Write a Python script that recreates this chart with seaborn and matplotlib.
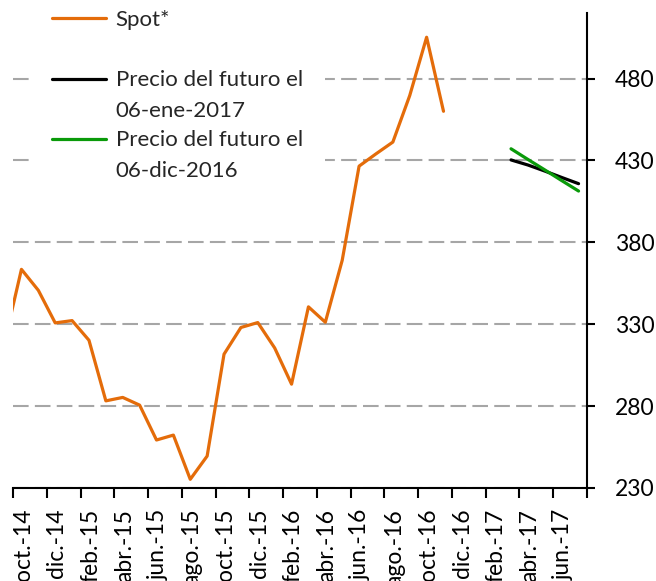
import numpy as np
import pandas as pd
import matplotlib
matplotlib.use("Agg")
import matplotlib.pyplot as plt
import seaborn as sns
from matplotlib.legend_handler import HandlerLine2D

# ---------------- data ----------------
months = ["sep.-14", "oct.-14", "nov.-14", "dic.-14", "ene.-15", "feb.-15", "mar.-15", "abr.-15",
          "may.-15", "jun.-15", "jul.-15", "ago.-15", "sep.-15", "oct.-15", "nov.-15", "dic.-15",
          "ene.-16", "feb.-16", "mar.-16", "abr.-16", "may.-16", "jun.-16", "jul.-16", "ago.-16",
          "sep.-16", "oct.-16", "nov.-16", "dic.-16", "ene.-17", "feb.-17", "mar.-17", "abr.-17",
          "may.-17", "jun.-17", "jul.-17"]
spot = [319, 363.5, 350.7, 330.8, 332.2, 320.2, 283.2, 285.3, 280.6, 259.3, 262.3, 235.3,
        249.5, 311.7, 328.0, 331.0, 315.5, 293.4, 340.6, 331.2, 369.0, 426.5, 434.0, 441.2,
        469.6, 505.2, 460.0]
fut_months = ["mar.-17", "abr.-17", "may.-17", "jun.-17", "jul.-17"]
fut_ene = [430.3, 427.2, 423.5, 419.6, 415.8]
fut_dic = [437.1, 430.6, 424.2, 417.7, 411.3]
label_months = ["oct.-14", "dic.-14", "feb.-15", "abr.-15", "jun.-15", "ago.-15", "oct.-15",
                "dic.-15", "feb.-16", "abr.-16", "jun.-16", "ago.-16", "oct.-16", "dic.-16",
                "feb.-17", "abr.-17", "jun.-17"]
yticks = [230, 280, 330, 380, 430, 480]

# index: oct.-14 = 0
pos = {m: i - 1 for i, m in enumerate(months)}
df_spot = pd.DataFrame({"x": [pos[m] for m in months[:len(spot)]], "y": spot})
df_ene = pd.DataFrame({"x": [pos[m] for m in fut_months], "y": fut_ene})
df_dic = pd.DataFrame({"x": [pos[m] for m in fut_months], "y": fut_dic})

sns.set_theme(style="white")
plt.rcParams["font.family"] = ["Lato", "DejaVu Sans"]

W, H = 656, 581
fig = plt.figure(figsize=(W / 100, H / 100), dpi=100)
L, R, T, B = 13, 587, 13, 488
ax = fig.add_axes([L / W, 1 - B / H, (R - L) / W, (B - T) / H])

ORANGE = "#E46C0A"
GREEN = "#0A9A0A"
sns.lineplot(data=df_spot, x="x", y="y", ax=ax, color=ORANGE, lw=2.3, label="Spot*\n")
sns.lineplot(data=df_ene, x="x", y="y", ax=ax, color="black", lw=2.3,
             label="Precio del futuro el\n06-ene-2017")
sns.lineplot(data=df_dic, x="x", y="y", ax=ax, color=GREEN, lw=2.3,
             label="Precio del futuro el\n06-dic-2016")

ax.set_xlim(-0.5, 33.5)
ax.set_ylim(230, 520)
ax.set_xlabel("")
ax.set_ylabel("")

# y axis on the right
ax.yaxis.tick_right()
ax.set_yticks(yticks)
ax.set_yticklabels([str(v) for v in yticks], fontsize=16.5, color="black")
ax.tick_params(axis="y", which="major", direction="out", length=6, width=1.5,
               color="black", right=True, left=False, pad=14)

# x axis: tick marks between categories, labels at every other category
ax.set_xticks(np.arange(-0.5, 34, 2))
ax.set_xticklabels([])
ax.set_xticks([pos[m] + 0.1 for m in label_months], minor=True)
ax.set_xticklabels(label_months, minor=True, rotation=90, fontsize=16.5, color="black")
ax.tick_params(axis="x", which="major", direction="out", length=7, width=1.5,
               color="black", bottom=True)
ax.tick_params(axis="x", which="minor", length=0, pad=15)

for s in ["left", "top"]:
    ax.spines[s].set_visible(False)
for s in ["right", "bottom"]:
    ax.spines[s].set_visible(True)
    ax.spines[s].set_color("black")
    ax.spines[s].set_linewidth(1.5)

ax.grid(axis="y", color="#A6A6A6", linestyle=(0, (7.5, 3)), linewidth=1.5)
ax.grid(axis="x", visible=False)
ax.set_axisbelow(True)


class TopHandler(HandlerLine2D):
    def create_artists(self, legend, orig_handle, xdescent, ydescent, width, height,
                       fontsize, trans):
        arts = super().create_artists(legend, orig_handle, xdescent, ydescent, width,
                                      height, fontsize, trans)
        for a in arts:
            if hasattr(a, "get_ydata"):
                a.set_ydata([v + 0.78 * fontsize for v in a.get_ydata()])
        return arts


handles, labels = ax.get_legend_handles_labels()
leg = ax.legend(handles, labels, loc="upper left", bbox_to_anchor=(0.0296, 1.0531),
                fontsize=16, frameon=True, framealpha=1, facecolor="white",
                edgecolor="white", handlelength=2.4, handletextpad=0.45,
                labelspacing=0.42, borderpad=1.0, borderaxespad=0.0,
                handler_map={h: TopHandler() for h in handles})
leg.get_frame().set_linewidth(0)
for t in leg.get_texts():
    t.set_linespacing(1.68)

fig.savefig("out.png", dpi=100)
